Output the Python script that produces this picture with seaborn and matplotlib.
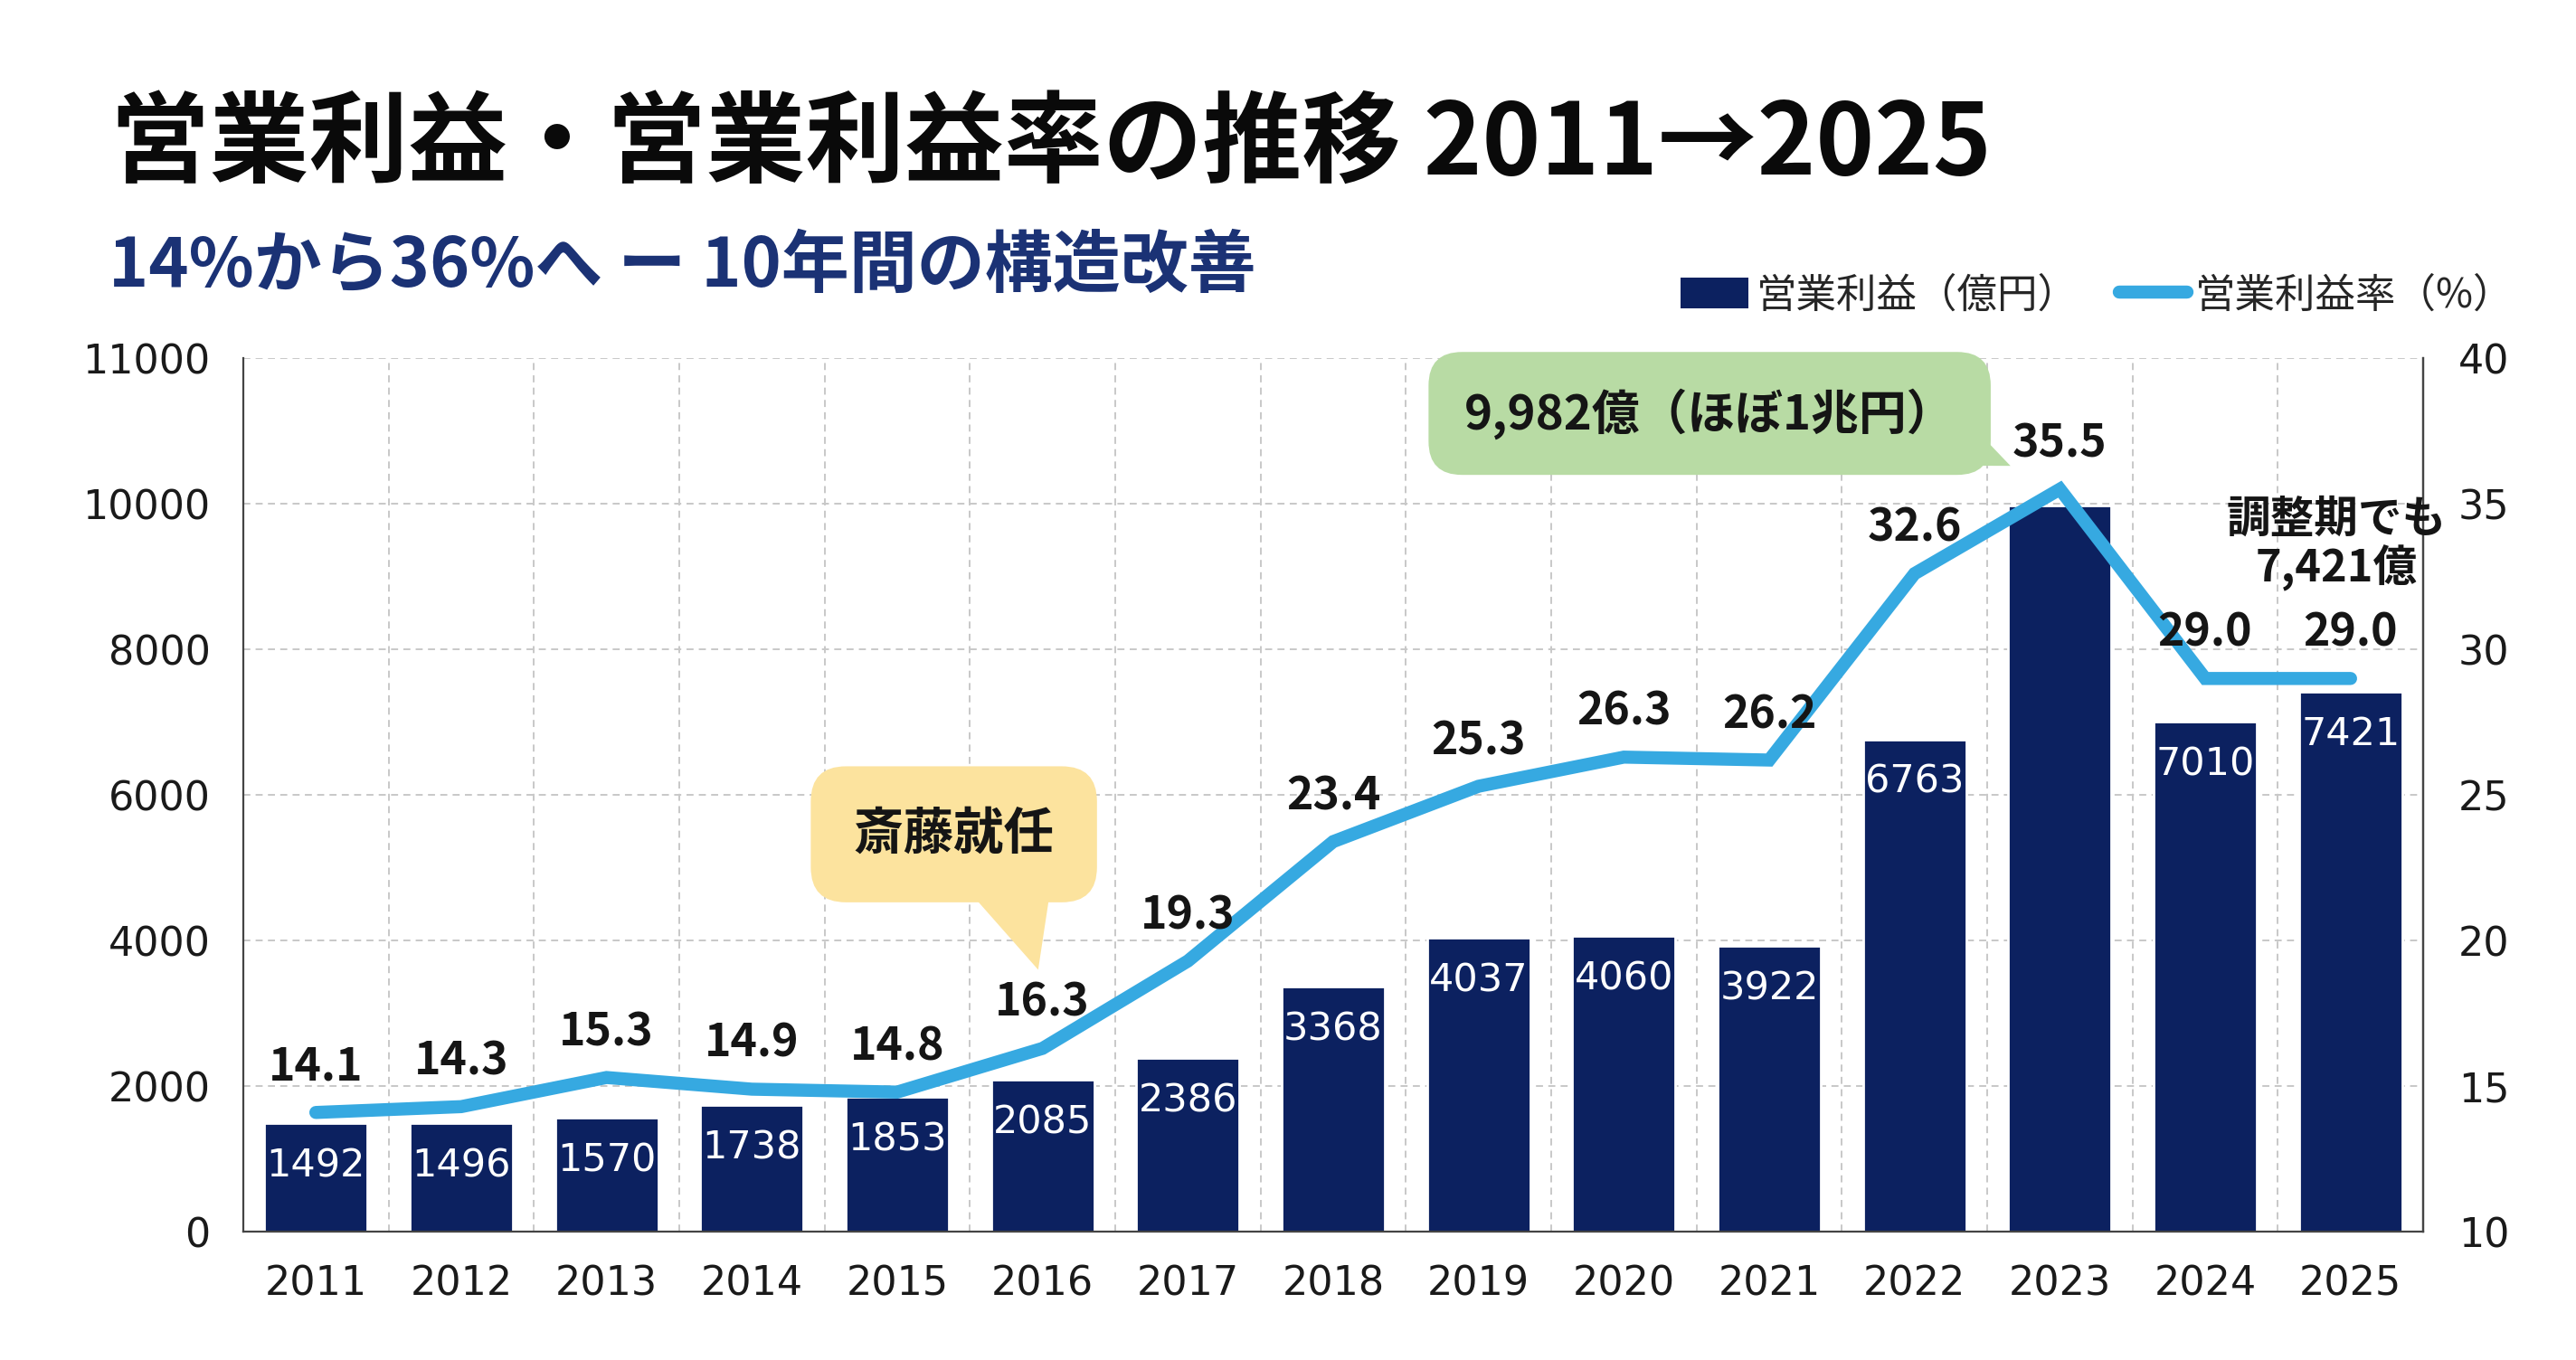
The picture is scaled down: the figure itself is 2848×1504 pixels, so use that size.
import numpy as np
import pandas as pd
import matplotlib
matplotlib.use("Agg")
import matplotlib.pyplot as plt
from matplotlib.patches import Patch
from matplotlib.lines import Line2D
from matplotlib.ticker import FixedLocator
import seaborn as sns

# ---- data ----
years = [2011, 2012, 2013, 2014, 2015, 2016, 2017, 2018, 2019, 2020, 2021, 2022, 2023, 2024, 2025]
profit = [1492, 1496, 1570, 1738, 1853, 2085, 2386, 3368, 4037, 4060, 3922, 6763, 9982, 7010, 7421]
margin = [14.1, 14.3, 15.3, 14.9, 14.8, 16.3, 19.3, 23.4, 25.3, 26.3, 26.2, 32.6, 35.5, 29.0, 29.0]
hidden_bar_label_years = [2023]
left_ticks = [0, 2000, 4000, 6000, 8000, 10000, 12000]
left_tick_labels = ["0", "2000", "4000", "6000", "8000", "10000", "11000"]
right_ticks = [10, 15, 20, 25, 30, 35, 40]

title = "営業利益・営業利益率の推移 2011→2025"
subtitle = "14%から36%へ ー 10年間の構造改善"
legend_bar = "営業利益（億円）"
legend_line = "営業利益率（%）"
note_saito = "斎藤就任"
note_peak = "9,982億（ほぼ1兆円）"
note_adjust = "調整期でも\n7,421億"

NAVY = "#0c2160"
BLUE = "#36a9e1"
YELLOW = "#fce39e"
GREEN = "#b8dba4"
SUB = "#1b3275"

sns.set_theme(style="white")
plt.rcParams["font.family"] = ["Noto Sans CJK JP", "DejaVu Sans"]

df = pd.DataFrame({"year": years, "profit": profit, "margin": margin})

fig = plt.figure(figsize=(14.24, 7.52), dpi=200)
fig.patch.set_facecolor("white")
ax1 = fig.add_axes([0.0944, 0.0942, 0.8463, 0.6425])
ax1.set_facecolor("white")

sns.barplot(data=df, x="year", y="profit", native_scale=True, width=0.71,
            color=NAVY, saturation=1, ax=ax1, zorder=2)
ax1.set_xlim(years[0] - 0.5, years[-1] + 0.5)
ax1.set_ylim(0, 12000)
ax1.set_yticks(left_ticks)
ax1.set_yticklabels(left_tick_labels)
ax1.set_xticks(years)
ax1.set_xticklabels([str(y) for y in years])
ax1.xaxis.set_minor_locator(FixedLocator([y + 0.5 for y in years[:-1]]))
ax1.set_axisbelow(True)
ax1.grid(True, axis="y", which="major", linestyle=(0, (4, 3)), color="#c8c8c8", lw=0.7)
ax1.grid(True, axis="x", which="minor", linestyle=(0, (4, 3)), color="#c8c8c8", lw=0.7)
ax1.grid(False, axis="x", which="major")
ax1.set_xlabel("")
ax1.set_ylabel("")
ax1.tick_params(axis="both", which="both", length=0)
ax1.tick_params(axis="y", pad=13, labelsize=16, labelcolor="#1a1a1a")
ax1.tick_params(axis="x", pad=13, labelsize=16, labelcolor="#1a1a1a")
for lab in ax1.get_xticklabels() + ax1.get_yticklabels():
    lab.set_family(["DejaVu Sans"])

for s in ["left", "right", "bottom"]:
    ax1.spines[s].set_visible(True)
    ax1.spines[s].set_color("#444444")
    ax1.spines[s].set_linewidth(0.8)
ax1.spines["top"].set_visible(False)

# bar labels
for y, v in zip(years, profit):
    if y in hidden_bar_label_years:
        continue
    ax1.annotate(str(v), xy=(y, v), xytext=(0, -17), textcoords="offset points",
                 ha="center", va="center", color="white", fontsize=15.5,
                 family=["DejaVu Sans"], zorder=3)

ax2 = ax1.twinx()
sns.lineplot(data=df, x="year", y="margin", color=BLUE, lw=5.2, ax=ax2,
             solid_capstyle="round", solid_joinstyle="miter", zorder=4)
ax2.set_ylim(10, 40)
ax2.set_yticks(right_ticks)
ax2.set_ylabel("")
ax2.tick_params(axis="y", length=0, pad=14, labelsize=16, labelcolor="#1a1a1a")
for lab in ax2.get_yticklabels():
    lab.set_family(["DejaVu Sans"])
for s in ["top", "left", "bottom"]:
    ax2.spines[s].set_visible(False)
ax2.spines["right"].set_color("#444444")
ax2.spines["right"].set_linewidth(0.8)
ax2.grid(False)

for y, m in zip(years, margin):
    ax2.annotate(f"{m:.1f}", xy=(y, m), xytext=(0, 18), textcoords="offset points",
                 ha="center", va="center", fontsize=18, fontweight="bold",
                 color="#151515", zorder=6)

# callouts
ax2.annotate("", xy=(2015.97, 19.0), xytext=(2015.74, 22.9),
             arrowprops=dict(arrowstyle="wedge,tail_width=2.2", fc=YELLOW, ec="none",
                             shrinkA=0, shrinkB=0, mutation_scale=20), zorder=5)
ax2.text(2015.39, 23.65, note_saito, ha="center", va="center", fontsize=20,
         fontweight="bold", color="#151515", zorder=6,
         bbox=dict(boxstyle="round,pad=0.85,rounding_size=0.7", fc=YELLOW, ec="none"))

ax2.annotate("", xy=(2022.66, 36.3), xytext=(2022.1, 37.5),
             arrowprops=dict(arrowstyle="wedge,tail_width=1.5", fc=GREEN, ec="none",
                             shrinkA=0, shrinkB=0, mutation_scale=20), zorder=5)
ax2.text(2020.59, 38.1, note_peak, ha="center", va="center", fontsize=19,
         fontweight="bold", color="#151515", zorder=6,
         bbox=dict(boxstyle="round,pad=0.75,rounding_size=0.7", fc=GREEN, ec="none"))

ax2.text(2024.9, 33.6, note_adjust, ha="center", va="center", fontsize=17.5,
         fontweight="bold", color="#151515", linespacing=1.1, zorder=6)

# titles
fig.text(0.043, 0.893, title, ha="left", va="center", fontsize=39.5,
         fontweight="bold", color="#0a0a0a")
fig.text(0.042, 0.804, subtitle, ha="left", va="center", fontsize=27,
         fontweight="bold", color=SUB)

handles = [Patch(facecolor=NAVY, edgecolor="none"),
           Line2D([0], [0], color=BLUE, lw=5.2, solid_capstyle="round")]
fig.legend(handles, [legend_bar, legend_line], loc="center right",
           bbox_to_anchor=(0.976, 0.783), ncol=2, frameon=False, fontsize=16,
           handlelength=1.7, handleheight=0.8, handletextpad=0.2, columnspacing=1.0,
           borderpad=0, borderaxespad=0)

fig.savefig("out.png", dpi=200, facecolor="white")
